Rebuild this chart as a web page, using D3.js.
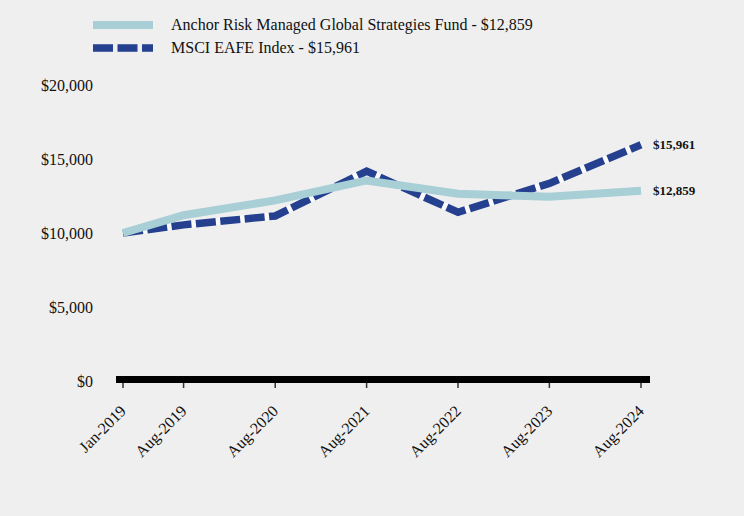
<!DOCTYPE html>
<html><head><meta charset="utf-8">
<script src="https://cdn.jsdelivr.net/npm/d3@7"></script>
<style>
html,body{margin:0;padding:0;background:#efefef;}
svg{display:block;font-family:"Liberation Serif","Times New Roman",serif;}
</style></head>
<body>
<svg id="chart" width="744" height="516"></svg>
<script>
const dates = ["2019-01-01","2019-08-31","2020-08-31","2021-08-31","2022-08-31","2023-08-31","2024-08-31"];
const tickLabels = ["Jan-2019","Aug-2019","Aug-2020","Aug-2021","Aug-2022","Aug-2023","Aug-2024"];
const fundValues = [10000, 11200, 12200, 13550, 12650, 12450, 12859];
const indexValues = [10000, 10550, 11150, 14180, 11400, 13350, 15961];
const yTicks = [0, 5000, 10000, 15000, 20000];
const seriesNames = ["Anchor Risk Managed Global Strategies Fund - $12,859", "MSCI EAFE Index - $15,961"];
const endLabels = ["$12,859", "$15,961"];

const fundColor = "#a7cfd5", indexColor = "#25408f";
const parse = d3.timeParse("%Y-%m-%d");
const xs = dates.map(parse);
const svg = d3.select("#chart");
svg.append("rect").attr("width",744).attr("height",516).attr("fill","#efefef");

const x = d3.scaleTime().domain([xs[0], xs[xs.length-1]]).range([123, 641]);
const y = d3.scaleLinear().domain([0, 20000]).range([381, 85]);

// y labels
svg.append("g").selectAll("text").data(yTicks).join("text")
  .attr("x", 93).attr("y", d => y(d)).attr("dy","0.35em")
  .attr("text-anchor","end").attr("font-size",16).attr("fill","#111")
  .text(d => "$" + d3.format(",")(d));

// x axis thick line
svg.append("line").attr("x1",116).attr("x2",650).attr("y1",379.5).attr("y2",379.5)
  .attr("stroke","#000").attr("stroke-width",7);
svg.append("g").selectAll("line").data(xs).join("line")
  .attr("x1", d => x(d)).attr("x2", d => x(d)).attr("y1",383).attr("y2",388)
  .attr("stroke","#333").attr("stroke-width",1.5);
svg.append("g").selectAll("text").data(xs).join("text")
  .attr("transform", d => `translate(${x(d)+4},${412}) rotate(-45)`)
  .attr("text-anchor","end").attr("font-size",16).attr("fill","#111")
  .text((d,i) => tickLabels[i]);

const line = d3.line().x(d => x(d.date)).y(d => y(d.v));
const fundData = xs.map((d,i) => ({date:d, v:fundValues[i]}));
const indexData = xs.map((d,i) => ({date:d, v:indexValues[i]}));

svg.append("path").datum(indexData).attr("d", line).attr("fill","none")
  .attr("stroke","#fafafa").attr("stroke-width",7.5);
svg.append("path").datum(indexData).attr("d", line).attr("fill","none")
  .attr("stroke",indexColor).attr("stroke-width",7.5).attr("stroke-dasharray","20,4.5");
svg.append("path").datum(fundData).attr("d", line).attr("fill","none")
  .attr("stroke",fundColor).attr("stroke-width",8);

// end labels
svg.append("text").attr("x",653).attr("y", y(indexValues[6])).attr("dy","0.35em")
  .attr("font-size",13).attr("font-weight","bold").attr("fill","#111").text(endLabels[1]);
svg.append("text").attr("x",653).attr("y", y(fundValues[6])).attr("dy","0.35em")
  .attr("font-size",13).attr("font-weight","bold").attr("fill","#111").text(endLabels[0]);

// legend
const lg = svg.append("g");
lg.append("line").attr("x1",93).attr("x2",153).attr("y1",25).attr("y2",25)
  .attr("stroke",fundColor).attr("stroke-width",8);
lg.append("line").attr("x1",93).attr("x2",153).attr("y1",48).attr("y2",48)
  .attr("stroke",indexColor).attr("stroke-width",7.5).attr("stroke-dasharray","20,4.5");
lg.append("text").attr("x",171).attr("y",30).attr("font-size",16).attr("fill","#111").text(seriesNames[0]);
lg.append("text").attr("x",171).attr("y",53).attr("font-size",16).attr("fill","#111").text(seriesNames[1]);
</script>
</body></html>
